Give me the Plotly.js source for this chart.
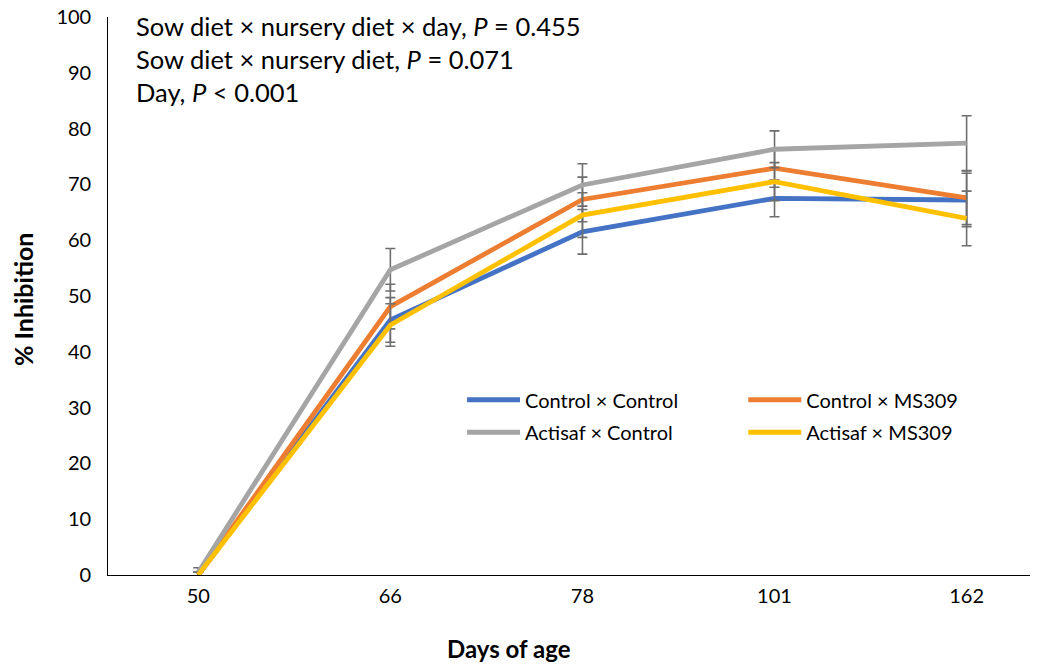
<!DOCTYPE html>
<html>
<head>
<meta charset="utf-8">
<script src="https://cdn.plot.ly/plotly-3.0.1.min.js"></script>
<style>html,body{margin:0;padding:0;background:#fff;}#chart{width:1044px;height:667px;}</style>
</head>
<body>
<div id="chart"></div>
<script>
const days = ['50', '66', '78', '101', '162'];
const seriesNames = ['Control × Control', 'Control × MS309', 'Actisaf × Control', 'Actisaf × MS309'];
const controlControl = [0, 45.7, 61.5, 67.5, 67.2];
const controlMS309 = [0, 48.1, 67.3, 72.9, 67.6];
const actisafControl = [0.5, 54.7, 69.9, 76.3, 77.4];
const actisafMS309 = [0, 44.8, 64.5, 70.5, 63.9];
const errControlControl = [0.5, 4.0, 4.0, 3.3, 4.8];
const errControlMS309 = [0.5, 4.0, 4.0, 3.4, 4.8];
const errActisafControl = [0.8, 3.8, 3.8, 3.3, 4.9];
const errActisafMS309 = [0.5, 3.8, 4.0, 3.4, 4.9];
const colors = ['#4472C4', '#ED7D31', '#A5A5A5', '#FFC000'];
const legendIds = ['legend', 'legend2', 'legend', 'legend2'];

const values = [controlControl, controlMS309, actisafControl, actisafMS309];
const errs = [errControlControl, errControlMS309, errActisafControl, errActisafMS309];
const FONT = 'Lato, "Open Sans", sans-serif';

const traces = values.map((v, i) => ({
  type: 'scatter',
  mode: 'lines',
  x: days,
  y: v,
  name: seriesNames[i],
  legend: legendIds[i],
  legendgroup: 'g' + i,
  line: {color: colors[i], width: 4.8},
  error_y: {type: 'data', array: errs[i], visible: true, color: '#6e6e6e', thickness: 1.6, width: 5}
}));

const legendBase = {
  orientation: 'v', xanchor: 'left', y: 0.349, yanchor: 'top',
  itemwidth: 53, tracegroupgap: 3.5,
  font: {family: FONT, size: 20, color: '#000'}, bgcolor: 'rgba(0,0,0,0)'
};

const layout = {
  width: 1044, height: 667,
  margin: {l: 108, r: 14, t: 17, b: 92},
  paper_bgcolor: '#fff', plot_bgcolor: '#fff',
  font: {family: FONT, color: '#000', size: 20},
  showlegend: true,
  legend: Object.assign({}, legendBase, {x: 0.384}),
  legend2: Object.assign({}, legendBase, {x: 0.689}),
  xaxis: {
    type: 'category', range: [-0.47, 4.33],
    showline: true, linecolor: '#000', linewidth: 1.2,
    showgrid: false, zeroline: false, ticks: '', ticklabelstandoff: 3,
    tickfont: {family: FONT, size: 20, color: '#000'}
  },
  yaxis: {
    range: [0, 100], dtick: 10, tick0: 0,
    showline: true, linecolor: '#000', linewidth: 1.2,
    showgrid: false, zeroline: false, ticks: '', ticksuffix: '\u2007',
    tickfont: {family: FONT, size: 20, color: '#000'}
  },
  annotations: [
    {xref: 'paper', yref: 'paper', x: 0.028, y: 1.0145, xanchor: 'left', yanchor: 'top', align: 'left',
     showarrow: false, font: {family: FONT, size: 25.5, color: '#000'},
     text: 'Sow diet × nursery diet × day, <i>P</i> = 0.455<br>Sow diet × nursery diet, <i>P</i> = 0.071<br>Day, <i>P</i> < 0.001'},
    {xref: 'paper', yref: 'paper', x: (509 - 108) / 922, y: -(648 - 575) / 558, xanchor: 'center', yanchor: 'middle',
     showarrow: false, font: {family: FONT, size: 24, color: '#000'}, text: '<b>Days of age</b>'},
    {xref: 'paper', yref: 'paper', x: -(108 - 23) / 922, y: (575 - 300) / 558, xanchor: 'center', yanchor: 'middle',
     textangle: -90, showarrow: false, font: {family: FONT, size: 25, color: '#000'}, text: '<b>% Inhibition</b>'}
  ]
};

Plotly.newPlot('chart', traces, layout, {displayModeBar: false, staticPlot: true});
</script>
</body>
</html>
